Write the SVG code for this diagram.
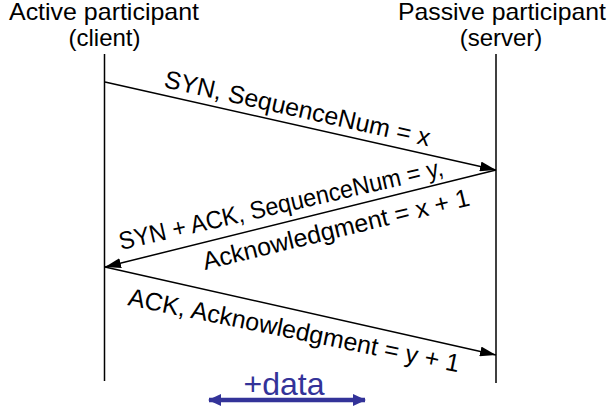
<svg xmlns="http://www.w3.org/2000/svg" width="612" height="414" viewBox="0 0 612 414">
<style>
text{font-family:"Liberation Sans",Arial,sans-serif;font-size:25px;fill:#000}
.head{text-anchor:middle;font-size:24px}
.life{stroke:#000;stroke-width:1.5;fill:none}
.msg{stroke:#000;stroke-width:1.5;fill:none}
.data{font-size:32px;fill:#333399;text-anchor:middle}
</style>
<defs>
<marker id="ah" viewBox="0 0 16 10" refX="16" refY="5" markerWidth="16" markerHeight="10" markerUnits="userSpaceOnUse" orient="auto">
<path d="M0,0 L16,5 L0,10 Z" fill="#000"/>
</marker>
<marker id="bh" viewBox="0 0 13 12" refX="12" refY="6" markerWidth="13" markerHeight="12" markerUnits="userSpaceOnUse" orient="auto-start-reverse">
<path d="M0,0 L13,6 L0,12 Z" fill="#333399"/>
</marker>
</defs>
<rect width="612" height="414" fill="#fff"/>
<g id="client">
<text class="head" x="104" y="20" textLength="190" lengthAdjust="spacingAndGlyphs">Active participant</text>
<text class="head" x="104.5" y="46">(client)</text>
<line class="life" x1="104.5" y1="54" x2="104.5" y2="381"/>
</g>
<g id="server">
<text class="head" x="502" y="20" textLength="208" lengthAdjust="spacingAndGlyphs">Passive participant</text>
<text class="head" x="501" y="46">(server)</text>
<line class="life" x1="496" y1="54" x2="496" y2="383"/>
</g>
<g id="connectors">
<line class="msg" x1="105" y1="82" x2="496" y2="170" marker-end="url(#ah)"/>
<line class="msg" x1="496" y1="170" x2="105" y2="267" marker-end="url(#ah)"/>
<line class="msg" x1="105" y1="267" x2="496" y2="355" marker-end="url(#ah)"/>
<line x1="209" y1="400" x2="365" y2="400" stroke="#333399" stroke-width="4.5" marker-start="url(#bh)" marker-end="url(#bh)"/>
</g>
<g id="labels">
<text transform="translate(163,87) rotate(12.6)">SYN, SequenceNum = x</text>
<text transform="translate(121,250) rotate(-13)" font-size="24" textLength="332" lengthAdjust="spacingAndGlyphs">SYN + ACK, SequenceNum = y,</text>
<text transform="translate(205,270) rotate(-13.7)">Acknowledgment = x + 1</text>
<text transform="translate(127,305) rotate(11.5)">ACK, Acknowledgment = y + 1</text>
<text class="data" x="284" y="395">+data</text>
</g>
</svg>
